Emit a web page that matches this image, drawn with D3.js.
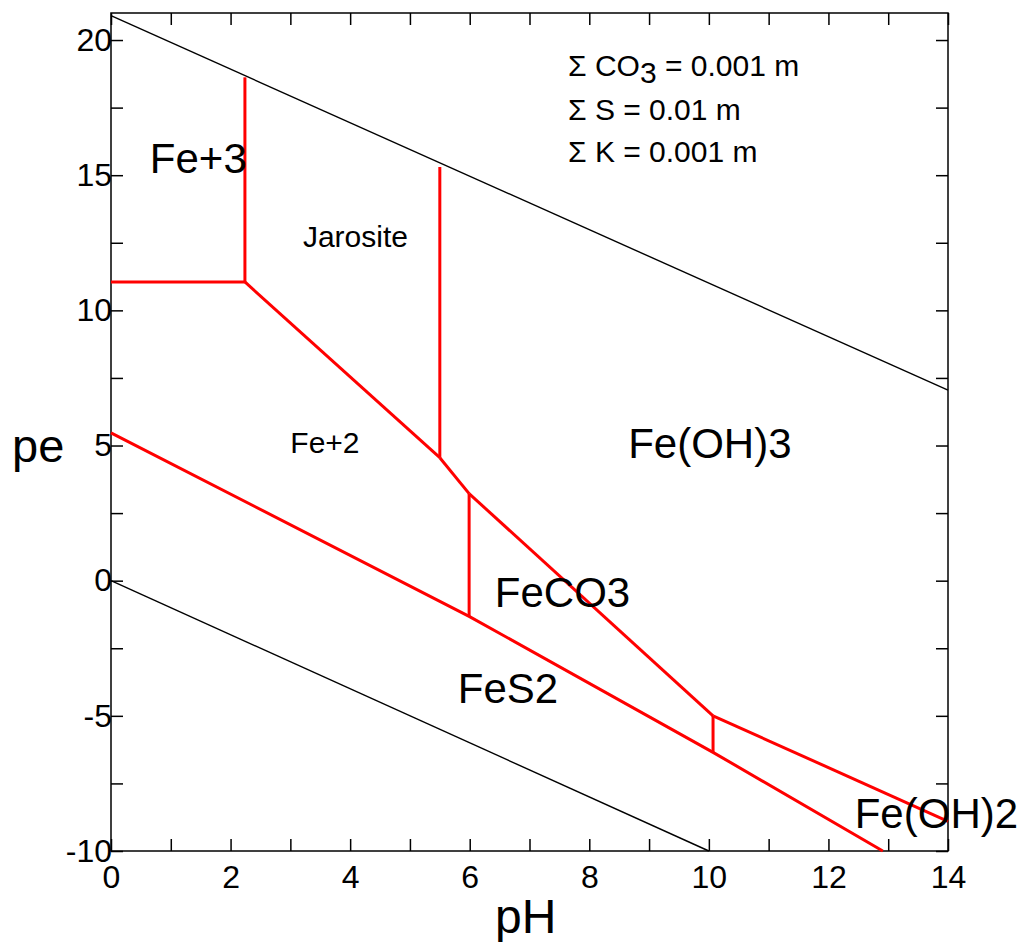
<!DOCTYPE html>
<html>
<head>
<meta charset="utf-8">
<script src="https://cdn.jsdelivr.net/npm/d3@7"></script>
<style>
  body { margin: 0; background: #fff; }
  svg { display: block; }
  text { font-family: "Liberation Sans", Arial, Helvetica, sans-serif; fill: #000; }
</style>
</head>
<body>
<div id="chart"></div>
<script>
// ---- data ----
const xDomain = [0, 14];
const yDomain = [-10, 21];
const xTicksMajor = [0, 2, 4, 6, 8, 10, 12, 14];
const xTicksAll = [0, 1, 2, 3, 4, 5, 6, 7, 8, 9, 10, 11, 12, 13, 14];
const yTicksMajor = [-10, -5, 0, 5, 10, 15, 20];
const yTicksAll = [-10, -7.5, -5, -2.5, 0, 2.5, 5, 7.5, 10, 12.5, 15, 17.5, 20];

// water stability limits (black)
const waterUpper = [[0, 20.9], [14, 7.05]];
const waterLower = [[0, 0], [10, -10]];

// phase boundaries (red), [pH, pe]
const feIII_feII = [[0, 11.05], [2.24, 11.05]];
const feIII_jarosite = [[2.24, 11.05], [2.24, 18.62]];
const feII_jarosite = [[2.24, 11.05], [5.5, 4.55]];
const jarosite_feoh3 = [[5.5, 4.55], [5.5, 15.3]];
const feII_feoh3 = [[5.5, 4.55], [5.99, 3.22]];
const feco3_feoh3 = [[5.99, 3.22], [10.07, -5.0]];
const feoh2_feoh3 = [[10.07, -5.0], [14, -8.9]];
const feII_feco3 = [[5.99, 3.22], [5.99, -1.32]];
const fes2_upper = [[0, 5.47], [5.99, -1.32], [10.07, -6.35], [12.91, -10]];
const feco3_feoh2 = [[10.07, -5.0], [10.07, -6.35]];

const redBoundaries = [feIII_feII, feIII_jarosite, feII_jarosite, jarosite_feoh3,
  feII_feoh3, feco3_feoh3, feoh2_feoh3, feII_feco3, fes2_upper, feco3_feoh2];
const blackLines = [waterUpper, waterLower];

// field labels: [text, pH, pe, size]
const fieldLabels = [
  ["Fe+3", 0.65, 15.08, 42],
  ["Jarosite", 3.21, 12.34, 30],
  ["Fe+2", 3.0, 4.72, 30],
  ["Fe(OH)3", 8.65, 4.54, 42],
  ["FeCO3", 6.42, -0.96, 42],
  ["FeS2", 5.8, -4.53, 42],
  ["Fe(OH)2", 12.44, -9.15, 42]
];

// ---- layout ----
const W = 1024, H = 942;
const margin = { left: 111, right: 76, top: 13, bottom: 91 };
const iw = W - margin.left - margin.right;
const ih = H - margin.top - margin.bottom;

const svg = d3.select("#chart").append("svg").attr("width", W).attr("height", H);
const g = svg.append("g").attr("transform", `translate(${margin.left},${margin.top})`);

const x = d3.scaleLinear().domain(xDomain).range([0, iw]);
const y = d3.scaleLinear().domain(yDomain).range([ih, 0]);

const tickLen = 12;
const fmt = d => (xTicksMajor.includes(d) ? String(d) : "");
const fmtY = d => (yTicksMajor.includes(d) ? String(d) : "");

function styleAxis(sel) {
  sel.select(".domain").remove();
  sel.selectAll(".tick line").attr("stroke", "#000").attr("stroke-width", 1.5);
  sel.selectAll(".tick text").attr("font-size", 32).attr("font-family", '"Liberation Sans", Arial, sans-serif').attr("fill", "#000");
}

// bottom
g.append("g").attr("transform", `translate(0,${ih})`)
  .call(d3.axisBottom(x).tickValues(xTicksAll).tickSizeInner(-tickLen).tickSizeOuter(0).tickPadding(14).tickFormat(fmt))
  .call(styleAxis);
// top
g.append("g")
  .call(d3.axisTop(x).tickValues(xTicksAll).tickSizeInner(-tickLen).tickSizeOuter(0).tickFormat(""))
  .call(styleAxis);
// left
g.append("g")
  .call(d3.axisLeft(y).tickValues(yTicksAll).tickSizeInner(-tickLen).tickSizeOuter(0).tickPadding(11).tickFormat(fmtY))
  .call(styleAxis)
  .selectAll(".tick text").attr("dx", tickLen);
// right
g.append("g").attr("transform", `translate(${iw},0)`)
  .call(d3.axisRight(y).tickValues(yTicksAll).tickSizeInner(-tickLen).tickSizeOuter(0).tickFormat(""))
  .call(styleAxis);

// frame
g.append("rect").attr("x", 0).attr("y", 0).attr("width", iw).attr("height", ih)
  .attr("fill", "none").attr("stroke", "#000").attr("stroke-width", 1.5);

const line = d3.line().x(d => x(d[0])).y(d => y(d[1]));

g.append("g").selectAll("path").data(blackLines).join("path")
  .attr("d", line).attr("fill", "none").attr("stroke", "#000").attr("stroke-width", 1.4);

g.append("g").selectAll("path").data(redBoundaries).join("path")
  .attr("d", line).attr("fill", "none").attr("stroke", "#ff0000").attr("stroke-width", 3)
  .attr("stroke-linejoin", "miter");

// field labels
g.append("g").selectAll("text").data(fieldLabels).join("text")
  .attr("x", d => x(d[1])).attr("y", d => y(d[2]))
  .attr("font-size", d => d[3])
  .text(d => d[0]);

// legend
const legend = svg.append("g").attr("font-size", 30);
const l1 = legend.append("text").attr("x", 568).attr("y", 76);
l1.append("tspan").text("Σ CO");
l1.append("tspan").attr("dy", 7).text("3");
l1.append("tspan").attr("dy", -7).text(" = 0.001 m");
legend.append("text").attr("x", 568).attr("y", 120).text("Σ S = 0.01 m");
legend.append("text").attr("x", 568).attr("y", 162).text("Σ K = 0.001 m");

// axis titles
svg.append("text").attr("x", 495).attr("y", 933).attr("font-size", 48).text("pH");
svg.append("text").attr("x", 12).attr("y", 462).attr("font-size", 47).text("pe");
</script>
</body>
</html>
